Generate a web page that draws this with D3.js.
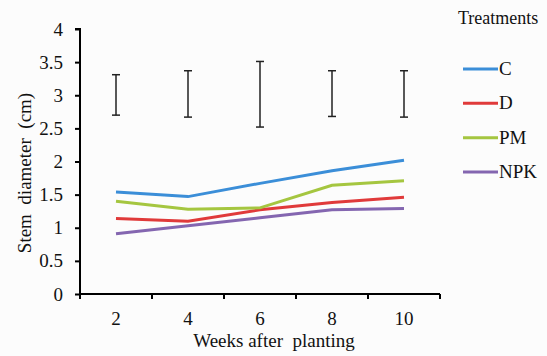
<!DOCTYPE html>
<html>
<head>
<meta charset="utf-8">
<script src="https://cdn.jsdelivr.net/npm/d3@7"></script>
<style>
  body { margin: 0; background: #fcfcfc; }
  svg { display: block; }
</style>
</head>
<body>
<div id="chart"></div>
<script>
// Stem diameter by week, per treatment
const weeks = ["2", "4", "6", "8", "10"];
const treatments = ["C", "D", "PM", "NPK"];
const valuesC = [1.54, 1.47, 1.67, 1.86, 2.02];
const valuesD = [1.14, 1.10, 1.27, 1.38, 1.46];
const valuesPM = [1.40, 1.28, 1.30, 1.64, 1.71];
const valuesNPK = [0.91, 1.03, 1.15, 1.27, 1.29];
// error bars drawn around 3 (lower, upper)
const errLow = [2.70, 2.67, 2.52, 2.68, 2.67];
const errHigh = [3.31, 3.37, 3.51, 3.37, 3.37];
const yTicks = [0, 0.5, 1, 1.5, 2, 2.5, 3, 3.5, 4];

const COLORS = {
  C: "#3b8ed8",
  D: "#e03a3a",
  PM: "#a5c640",
  NPK: "#8466b0",
};

const seriesValues = { C: valuesC, D: valuesD, PM: valuesPM, NPK: valuesNPK };

const FONT = "'Liberation Serif', 'Times New Roman', serif";
const width = 547, height = 356;
const plot = { left: 80, right: 440, top: 29, bottom: 294 };

const svg = d3.select("#chart").append("svg")
  .attr("width", width)
  .attr("height", height)
  .attr("font-family", FONT)
  .attr("fill", "#111");

const x = d3.scaleBand().domain(weeks).range([plot.left, plot.right]);
const y = d3.scaleLinear().domain([0, 4]).range([plot.bottom, plot.top]);
const cx = (w) => x(w) + x.bandwidth() / 2;

// Y axis
const yAxis = svg.append("g")
  .attr("transform", `translate(${plot.left},0)`)
  .call(d3.axisLeft(y).tickValues(yTicks).tickSize(5).tickPadding(12)
    .tickFormat(d3.format("")));
yAxis.attr("font-family", FONT).attr("font-size", 19);
yAxis.select(".domain").attr("d", `M-0,${plot.bottom + 4}V${plot.top}H-5`)
  .attr("stroke", "#000").attr("stroke-width", 2);
yAxis.selectAll(".tick line").attr("stroke", "#000").attr("stroke-width", 2);
yAxis.selectAll(".tick text").attr("fill", "#111");

// X axis, ticks between categories
const xAxis = svg.append("g")
  .attr("transform", `translate(0,${plot.bottom})`);
xAxis.append("line")
  .attr("x1", plot.left).attr("x2", plot.right)
  .attr("stroke", "#000").attr("stroke-width", 2);
const edges = weeks.map((w) => x(w)).concat([plot.right]);
xAxis.selectAll("line.tick").data(edges).join("line")
  .attr("class", "tick")
  .attr("x1", (d) => d).attr("x2", (d) => d)
  .attr("y1", 0).attr("y2", 5)
  .attr("stroke", "#000").attr("stroke-width", 2);
xAxis.selectAll("text").data(weeks).join("text")
  .attr("x", (d) => cx(d))
  .attr("y", 31)
  .attr("text-anchor", "middle")
  .attr("font-size", 19)
  .text((d) => d);

// Axis titles
svg.append("text")
  .attr("x", 274).attr("y", 347)
  .attr("text-anchor", "middle")
  .attr("font-size", 19)
  .attr("xml:space", "preserve")
  .text("Weeks after  planting");

svg.append("text")
  .attr("transform", "translate(31,173) rotate(-90)")
  .attr("text-anchor", "middle")
  .attr("font-size", 19)
  .attr("xml:space", "preserve")
  .text("Stem  diameter  (cm)");

// Error bars
const eb = svg.append("g").attr("stroke", "#222").attr("stroke-width", 1.5);
weeks.forEach((w, i) => {
  const px = cx(w);
  eb.append("line").attr("x1", px).attr("x2", px)
    .attr("y1", y(errLow[i])).attr("y2", y(errHigh[i]));
  eb.append("line").attr("x1", px - 4).attr("x2", px + 4)
    .attr("y1", y(errLow[i])).attr("y2", y(errLow[i]));
  eb.append("line").attr("x1", px - 4).attr("x2", px + 4)
    .attr("y1", y(errHigh[i])).attr("y2", y(errHigh[i]));
});

// Lines
const line = d3.line()
  .x((d, i) => cx(weeks[i]))
  .y((d) => y(d));

treatments.forEach((t) => {
  svg.append("path")
    .datum(seriesValues[t])
    .attr("fill", "none")
    .attr("stroke", COLORS[t])
    .attr("stroke-width", 3)
    .attr("d", line);
});

// Legend
const legend = svg.append("g");
legend.append("text")
  .attr("x", 458).attr("y", 24)
  .attr("font-size", 18)
  .text("Treatments");
const ly = d3.scalePoint().domain(treatments).range([69, 172]);
treatments.forEach((t) => {
  legend.append("line")
    .attr("x1", 463).attr("x2", 498)
    .attr("y1", ly(t)).attr("y2", ly(t))
    .attr("stroke", COLORS[t]).attr("stroke-width", 3);
  legend.append("text")
    .attr("x", 499).attr("y", ly(t) + 6)
    .attr("font-size", 19)
    .text(t);
});
</script>
</body>
</html>
